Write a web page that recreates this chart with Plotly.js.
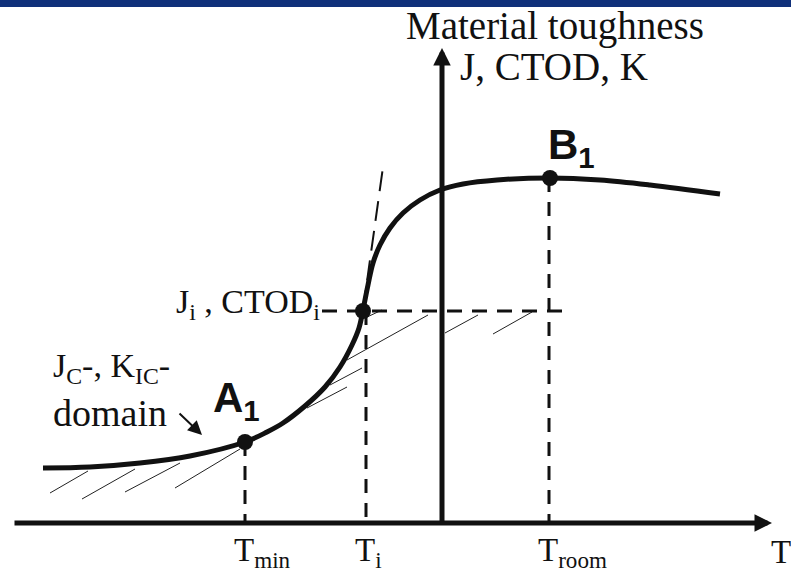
<!DOCTYPE html>
<html>
<head>
<meta charset="utf-8">
<script src="https://cdn.plot.ly/plotly-3.0.1.min.js"></script>
<style>html,body{margin:0;padding:0;background:#fff;}#chart{width:791px;height:574px;}</style>
</head>
<body>
<div id="chart"></div>
<script>
// Schematic units: T (horizontal) relative to the toughness axis, toughness (vertical) above the T axis
const curveT = [-399,-352,-302,-252,-197,-175,-159,-137,-117,-102,-90,-83,-79,-74,-69,-62,-52,-39,-22,-2,21,55,108,158,208,278];
const curveK = [55,56,60,67,81,91,100,117,136,156,178,195,213,238,260,278,295,310,323,333,339,343,345,343,338,329];

const pointNames = ["A1","Ji","B1"];
const pointT = [-197,-79,108];
const pointK = [81,212,345];

const tickNames = ["T<sub>min</sub>","T<sub>i</sub>","T<sub>room</sub>"];
const tickT = [-197,-76,107];
const tickTop = [81,212,345];

const jiLineT = [-120,126];
const jiLineK = 212;

const tangentT = [-79,-59];
const tangentK = [213,356];

// hatch segments: [T0, K0] -> [T1, K1]
const hatchT0 = [-392,-360,-317,-267,-135,-112,-95,-77,3,51];
const hatchK0 = [30,24,31,35,115,138,163,205,190,189];
const hatchT1 = [-354,-307,-262,-202,-95,-80,-14,-60,36,90];
const hatchK1 = [52,54,60,74,136,155,208,213,208,211];

const tAxis = [-429,330];
const kAxis = [0,475];

const hx = [], hy = [];
for (let i = 0; i < hatchT0.length; i++) {
  hx.push(hatchT0[i], hatchT1[i], null);
  hy.push(hatchK0[i], hatchK1[i], null);
}

const traces = [];
traces.push({x: hx, y: hy, mode: 'lines', line: {color: '#222', width: 1}, hoverinfo: 'skip'});
for (let i = 0; i < tickT.length; i++) {
  traces.push({x: [tickT[i], tickT[i]], y: [tickTop[i], 0], mode: 'lines',
    line: {color: '#111', width: 3, dash: '14px,10px'}, hoverinfo: 'skip'});
}
traces.push({x: jiLineT, y: [jiLineK, jiLineK], mode: 'lines',
  line: {color: '#111', width: 3, dash: '15px,10px'}, hoverinfo: 'skip'});
traces.push({x: tangentT, y: tangentK, mode: 'lines',
  line: {color: '#111', width: 2, dash: '20px,10px'}, hoverinfo: 'skip'});
traces.push({x: curveT, y: curveK, mode: 'lines',
  line: {color: '#111', width: 5, shape: 'spline', smoothing: 1}, hoverinfo: 'skip'});
traces.push({x: pointT, y: pointK, mode: 'markers', text: pointNames,
  marker: {color: '#111', size: 16}, hoverinfo: 'skip'});

const serif = 'Liberation Serif, Times New Roman, serif';
const sans = 'Liberation Sans, Arial, sans-serif';

function label(text, x, y, xanchor, size, family) {
  return {text: text, x: x, y: y, xref: 'x', yref: 'y', xanchor: xanchor, yanchor: 'middle',
    showarrow: false, font: {family: family, size: size, color: '#111'}};
}

const annotations = [
  {x: tAxis[1], y: 0, ax: tAxis[0], ay: 0, axref: 'x', ayref: 'y', xref: 'x', yref: 'y', text: '',
   showarrow: true, arrowhead: 2, arrowsize: 0.7, arrowwidth: 5, arrowcolor: '#111'},
  {x: 0, y: kAxis[1], ax: 0, ay: kAxis[0], axref: 'x', ayref: 'y', xref: 'x', yref: 'y', text: '',
   showarrow: true, arrowhead: 2, arrowsize: 0.7, arrowwidth: 5, arrowcolor: '#111'},
  {x: -240, y: 88, ax: -264, ay: 111, axref: 'x', ayref: 'y', xref: 'x', yref: 'y', text: '',
   showarrow: true, arrowhead: 2, arrowsize: 1.4, arrowwidth: 2, arrowcolor: '#111'},
  label('Material toughness', 113, 497, 'center', 39, serif),
  label('J, CTOD, K', 16, 457, 'left', 39, serif),
  label('J<sub>i</sub> , CTOD<sub>i</sub>', -120, 219, 'right', 34, serif),
  label('J<sub>C</sub>-, K<sub>IC</sub>-', -391, 155, 'left', 34, serif),
  label('domain', -391, 110, 'left', 38, serif),
  label('<b>A</b><sub><b>1</b></sub>', -231, 123, 'left', 42, sans),
  label('<b>B</b><sub><b>1</b></sub>', 104, 376, 'left', 42, sans),
  label('T', 327, -29, 'left', 33, serif)
];
for (let i = 0; i < tickNames.length; i++) {
  annotations.push(label(tickNames[i], tickT[i] - 13, -29, 'left', 33, serif));
}

const layout = {
  width: 791, height: 574, autosize: false,
  margin: {l: 0, r: 0, t: 0, b: 0},
  paper_bgcolor: '#fff', plot_bgcolor: '#fff',
  showlegend: false,
  xaxis: {range: [-442, 349], visible: false, fixedrange: true},
  yaxis: {range: [-51, 523], visible: false, fixedrange: true},
  shapes: [{type: 'rect', xref: 'paper', yref: 'paper', x0: 0, x1: 1, y0: 1 - 7/574, y1: 1,
    fillcolor: '#10307a', line: {width: 0}, layer: 'above'}],
  annotations: annotations
};

Plotly.newPlot('chart', traces, layout, {displayModeBar: false, staticPlot: true});
</script>
</body>
</html>
